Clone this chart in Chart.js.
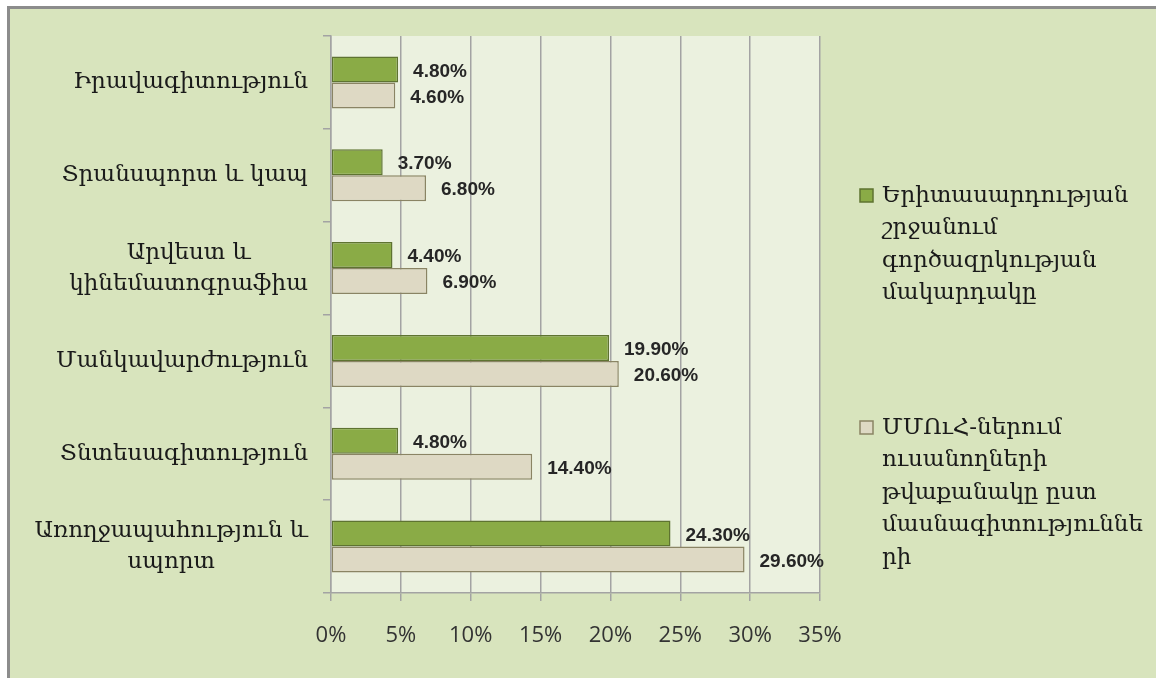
<!DOCTYPE html>
<html>
<head>
<meta charset="utf-8">
<script src="https://cdn.jsdelivr.net/npm/chart.js@4.4.1/dist/chart.umd.min.js"></script>
<style>
  html, body { margin: 0; padding: 0; background: #ffffff; }
  canvas { display: block; }
</style>
</head>
<body>
<canvas id="c" width="1156" height="678"></canvas>
<script>
// ---- data ----
const categories = [
  ['Իրավագիտություն'],
  ['Տրանսպորտ և կապ'],
  ['Արվեստ և', 'կինեմատոգրաֆիա'],
  ['Մանկավարժություն'],
  ['Տնտեսագիտություն'],
  ['Առողջապահություն և', 'սպորտ']
];
const seriesNames = [
  ['Երիտասարդության', 'շրջանում', 'գործազրկության', 'մակարդակը'],
  ['ՄՄՈւՀ-ներում', 'ուսանողների', 'թվաքանակը ըստ', 'մասնագիտություննե', 'րի']
];
const unemployment = [4.8, 3.7, 4.4, 19.9, 4.8, 24.3];
const students = [4.6, 6.8, 6.9, 20.6, 14.4, 29.6];
const xTicks = [0, 5, 10, 15, 20, 25, 30, 35];

// ---- styles ----
const SERIF = '"DejaVu Serif", serif';
const GRID = '#a3a3a3';
const colors = [
  { fill: '#8aab46', border: '#5e7331' },
  { fill: '#ded9c4', border: '#8a8464' }
];

const framePlugin = {
  id: 'frame',
  beforeDraw(chart) {
    const ctx = chart.ctx, a = chart.chartArea;
    ctx.save();
    ctx.fillStyle = '#ffffff';
    ctx.fillRect(0, 0, chart.width, chart.height);
    ctx.fillStyle = '#8c8c8c';
    ctx.fillRect(7, 6, chart.width - 7, chart.height - 6);
    ctx.fillStyle = '#d8e4bd';
    ctx.fillRect(10, 9, chart.width - 10, chart.height - 9);
    ctx.fillStyle = '#ebf1df';
    ctx.fillRect(a.left, a.top, a.right - a.left, a.bottom - a.top);
    ctx.restore();
  }
};

const labelsPlugin = {
  id: 'labels',
  afterDraw(chart) {
    const ctx = chart.ctx;
    const y = chart.scales.y;
    ctx.save();
    // category labels (block right-aligned, lines centered)
    ctx.font = '23px ' + SERIF;
    ctx.fillStyle = '#1a1a1a';
    ctx.textAlign = 'center';
    ctx.textBaseline = 'middle';
    const right = y.right - 23;
    chart.data.labels.forEach((lines, i) => {
      const cy = y.getPixelForTick(i);
      const w = Math.max(...lines.map(l => ctx.measureText(l).width));
      const cx = right - w / 2;
      const lh = 31;
      lines.forEach((l, k) => {
        ctx.fillText(l, cx, cy + (k - (lines.length - 1) / 2) * lh);
      });
    });
    // data labels
    ctx.font = 'bold 19px "Liberation Sans", sans-serif';
    ctx.fillStyle = '#262626';
    ctx.textAlign = 'left';
    chart.data.datasets.forEach((ds, di) => {
      const meta = chart.getDatasetMeta(di);
      meta.data.forEach((el, i) => {
        ctx.fillText(ds.data[i].toFixed(2) + '%', el.x + 15, el.y + 2);
      });
    });
    // legend
    ctx.font = '23px ' + SERIF;
    ctx.textAlign = 'left';
    const legendTops = [196, 428];
    chart.data.datasets.forEach((ds, di) => {
      const ly = legendTops[di];
      ctx.fillStyle = ds.backgroundColor;
      ctx.strokeStyle = ds.borderColor;
      ctx.lineWidth = 1.5;
      ctx.fillRect(860, ly - 7, 13, 13);
      ctx.strokeRect(860, ly - 7, 13, 13);
      ctx.fillStyle = '#1a1a1a';
      seriesNames[di].forEach((l, k) => ctx.fillText(l, 882, ly + k * 32.5));
    });
    ctx.restore();
  }
};

new Chart(document.getElementById('c'), {
  type: 'bar',
  data: {
    labels: categories,
    datasets: [
      { label: seriesNames[0].join(' '), data: unemployment,
        backgroundColor: colors[0].fill, borderColor: colors[0].border },
      { label: seriesNames[1].join(' '), data: students,
        backgroundColor: colors[1].fill, borderColor: colors[1].border }
    ]
  },
  options: {
    indexAxis: 'y',
    responsive: false,
    animation: false,
    devicePixelRatio: 1,
    layout: { padding: { left: 0, right: 336, top: 36, bottom: 0 } },
    datasets: {
      bar: { categoryPercentage: 0.56, barPercentage: 1.0, borderWidth: 1.5, borderSkipped: false }
    },
    plugins: { legend: { display: false }, tooltip: { enabled: false } },
    scales: {
      x: {
        min: 0, max: 35,
        afterBuildTicks(scale) { scale.ticks = xTicks.map(v => ({ value: v })); },
        afterFit(scale) { scale.height = 85; },
        ticks: {
          callback: v => v + '%',
          font: { family: '"Open Sans", sans-serif', size: 22 },
          color: '#333333',
          padding: 22,
          maxRotation: 0
        },
        grid: { color: GRID, lineWidth: 1.5, tickLength: 8, drawTicks: true },
        border: { color: GRID, width: 1.5 }
      },
      y: {
        afterFit(scale) { scale.width = 331; },
        ticks: { display: false },
        grid: { offset: true, drawOnChartArea: false, drawTicks: true, tickLength: 8, color: GRID, lineWidth: 1.5 },
        border: { color: GRID, width: 1.5 }
      }
    }
  },
  plugins: [framePlugin, labelsPlugin]
});
</script>
</body>
</html>
